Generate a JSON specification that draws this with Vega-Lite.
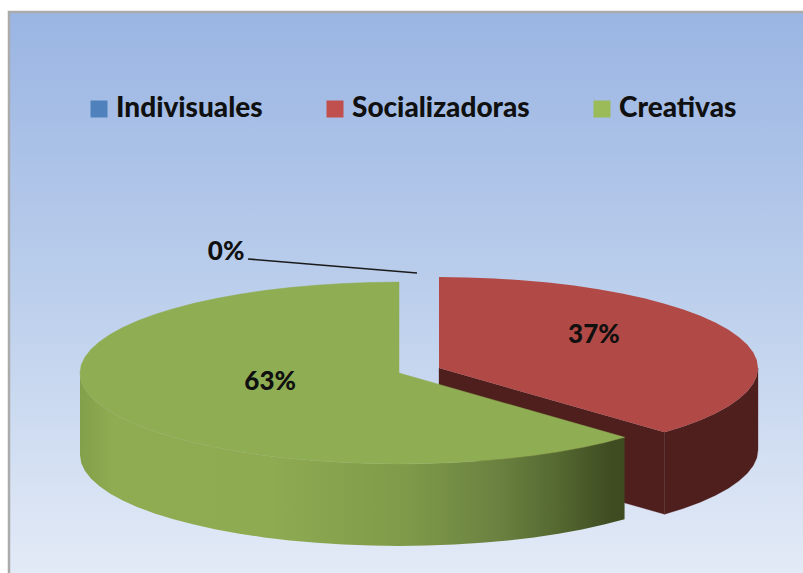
{
  "$schema": "https://vega.github.io/schema/vega-lite/v6.json",
  "width": 803,
  "height": 573,
  "padding": 0,
  "autosize": "none",
  "background": "#ffffff",
  "view": {"stroke": null},
  "projection": {"type": "identity", "reflectY": true, "scale": 3.19, "translate": [399, 373]},
  "layer": [
    {
      "data": {"values": [{"type": "Feature", "properties": {"part": "panel"}, "geometry": {"type": "Polygon", "coordinates": [[[-122.26,113.17],[128.8,113.17],[128.8,-64.9],[-122.26,-64.9],[-122.26,113.17]]]}}]},
      "mark": {"type": "geoshape", "stroke": "#ababab", "strokeWidth": 2.5, "fill": {"gradient": "linear", "x1": 0, "y1": 0, "x2": 0, "y2": 1, "stops": [{"offset": 0, "color": "#9ab5e3"}, {"offset": 0.5, "color": "#bccfec"}, {"offset": 1, "color": "#e4ebf7"}]}}
    },
    {
      "data": {"values": [{"type": "Feature", "properties": {"part": "leader"}, "geometry": {"type": "LineString", "coordinates": [[-47.35,35.75],[5.64,31.35]]}}]},
      "mark": {"type": "geoshape", "filled": false, "fill": null, "stroke": "#1a1a1a", "strokeWidth": 1.6}
    },
    {
      "data": {"values": [{"type": "Feature", "properties": {"category": "Socializadoras", "part": "wall"}, "geometry": {"type": "Polygon", "coordinates": [[[112.54,1.57],[112.16,-0.91],[111.02,-3.38],[109.13,-5.81],[106.51,-8.18],[103.17,-10.47],[99.14,-12.68],[94.46,-14.78],[89.14,-16.75],[83.25,-18.58],[83.25,-44.28],[89.14,-42.45],[94.46,-40.48],[99.14,-38.38],[103.17,-36.17],[106.51,-33.88],[109.13,-31.51],[111.02,-29.08],[112.16,-26.61],[112.54,-24.13],[112.54,1.57]]]}},
        {"type": "Feature", "properties": {"category": "Socializadoras", "part": "cut"}, "geometry": {"type": "Polygon", "coordinates": [[[12.54,1.57],[83.25,-18.58],[83.25,-44.28],[12.54,-24.13],[12.54,1.57]]]}}]},
      "mark": {"type": "geoshape", "fill": "#4f1f1d", "stroke": "#4f1f1d", "strokeWidth": 0.3}
    },
    {
      "data": {"values": [{"type": "Feature", "properties": {"category": "Socializadoras", "part": "top", "share": 0.37}, "geometry": {"type": "Polygon", "coordinates": [[[12.54,1.57],[12.54,30.07],[21.26,29.96],[29.9,29.64],[38.42,29.1],[46.74,28.35],[54.8,27.4],[62.54,26.25],[69.9,24.92],[76.82,23.4],[83.25,21.72],[89.14,19.89],[94.46,17.92],[99.14,15.82],[103.17,13.61],[106.51,11.32],[109.13,8.95],[111.02,6.52],[112.16,4.05],[112.54,1.57],[112.16,-0.91],[111.02,-3.38],[109.13,-5.81],[106.51,-8.18],[103.17,-10.47],[99.14,-12.68],[94.46,-14.78],[89.14,-16.75],[83.25,-18.58],[12.54,1.57]]]}}]},
      "mark": {"type": "geoshape", "fill": "#b14a46"}
    },
    {
      "data": {"values": [{"type": "Feature", "properties": {"category": "Creativas", "part": "wall"}, "geometry": {"type": "Polygon", "coordinates": [[[-100,0],[-99.62,-2.48],[-98.48,-4.95],[-96.59,-7.38],[-93.97,-9.75],[-90.63,-12.04],[-86.6,-14.25],[-81.92,-16.35],[-76.6,-18.32],[-70.71,-20.15],[-64.28,-21.83],[-57.36,-23.35],[-50,-24.68],[-42.26,-25.83],[-34.2,-26.78],[-25.88,-27.53],[-17.36,-28.07],[-8.72,-28.39],[0,-28.5],[8.72,-28.39],[17.36,-28.07],[25.88,-27.53],[34.2,-26.78],[42.26,-25.83],[50,-24.68],[57.36,-23.35],[64.28,-21.83],[70.71,-20.15],[70.71,-45.85],[64.28,-47.53],[57.36,-49.05],[50,-50.38],[42.26,-51.53],[34.2,-52.48],[25.88,-53.23],[17.36,-53.77],[8.72,-54.09],[0,-54.2],[-8.72,-54.09],[-17.36,-53.77],[-25.88,-53.23],[-34.2,-52.48],[-42.26,-51.53],[-50,-50.38],[-57.36,-49.05],[-64.28,-47.53],[-70.71,-45.85],[-76.6,-44.02],[-81.92,-42.05],[-86.6,-39.95],[-90.63,-37.74],[-93.97,-35.45],[-96.59,-33.08],[-98.48,-30.65],[-99.62,-28.18],[-100,-25.7],[-100,0]]]}}]},
      "mark": {"type": "geoshape", "fill": {"gradient": "linear", "x1": 0, "y1": 0, "x2": 1, "y2": 0, "stops": [{"offset": 0, "color": "#82a04a"}, {"offset": 0.06, "color": "#8fac52"}, {"offset": 0.35, "color": "#8eab52"}, {"offset": 0.6, "color": "#7f9a49"}, {"offset": 0.77, "color": "#6a8140"}, {"offset": 0.88, "color": "#546830"}, {"offset": 0.97, "color": "#404d22"}, {"offset": 1, "color": "#3e4a20"}]}}
    },
    {
      "data": {"values": [{"type": "Feature", "properties": {"category": "Creativas", "part": "top", "share": 0.63}, "geometry": {"type": "Polygon", "coordinates": [[[0,0],[0,28.5],[-8.72,28.39],[-17.36,28.07],[-25.88,27.53],[-34.2,26.78],[-42.26,25.83],[-50,24.68],[-57.36,23.35],[-64.28,21.83],[-70.71,20.15],[-76.6,18.32],[-81.92,16.35],[-86.6,14.25],[-90.63,12.04],[-93.97,9.75],[-96.59,7.38],[-98.48,4.95],[-99.62,2.48],[-100,0],[-99.62,-2.48],[-98.48,-4.95],[-96.59,-7.38],[-93.97,-9.75],[-90.63,-12.04],[-86.6,-14.25],[-81.92,-16.35],[-76.6,-18.32],[-70.71,-20.15],[-64.28,-21.83],[-57.36,-23.35],[-50,-24.68],[-42.26,-25.83],[-34.2,-26.78],[-25.88,-27.53],[-17.36,-28.07],[-8.72,-28.39],[0,-28.5],[8.72,-28.39],[17.36,-28.07],[25.88,-27.53],[34.2,-26.78],[42.26,-25.83],[50,-24.68],[57.36,-23.35],[64.28,-21.83],[70.71,-20.15],[0,0]]]}}]},
      "mark": {"type": "geoshape", "fill": "#8fad53", "stroke": "#8fad53", "strokeWidth": 0.5}
    },
    {
      "data": {"values": [
        {"category": "Indivisuales", "share": 0, "lon": -54.2, "lat": 37.9},
        {"category": "Socializadoras", "share": 0.37, "lon": 61.1, "lat": 11.8},
        {"category": "Creativas", "share": 0.63, "lon": -40.4, "lat": -2.8}
      ]},
      "layer": [
        {
          "mark": {"type": "point", "filled": true, "size": 0},
          "encoding": {
            "longitude": {"field": "lon", "type": "quantitative"},
            "latitude": {"field": "lat", "type": "quantitative"},
            "color": {
              "field": "category",
              "type": "nominal",
              "scale": {"domain": ["Indivisuales", "Socializadoras", "Creativas"], "range": ["#4f81bd", "#c0504d", "#9bbb59"]},
              "sort": null,
              "legend": {
                "title": null,
                "orient": "none",
                "legendX": 85,
                "legendY": 95,
                "direction": "horizontal",
                "columns": 3,
                "columnPadding": 58,
                "symbolType": "square",
                "symbolSize": 289,
                "symbolStrokeWidth": 0,
                "symbolOpacity": 1,
                "labelFont": "Lato",
                "labelFontWeight": 900,
                "labelFontSize": 28,
                "labelColor": "#101010",
                "labelOffset": 3,
                "labelLimit": 300
              }
            }
          }
        },
        {
          "mark": {"type": "text", "font": "Lato", "fontWeight": 900, "fontSize": 26, "fill": "#101010", "align": "center", "baseline": "middle"},
          "encoding": {
            "longitude": {"field": "lon", "type": "quantitative"},
            "latitude": {"field": "lat", "type": "quantitative"},
            "text": {"field": "share", "type": "quantitative", "format": ".0%"}
          }
        }
      ]
    }
  ]
}
